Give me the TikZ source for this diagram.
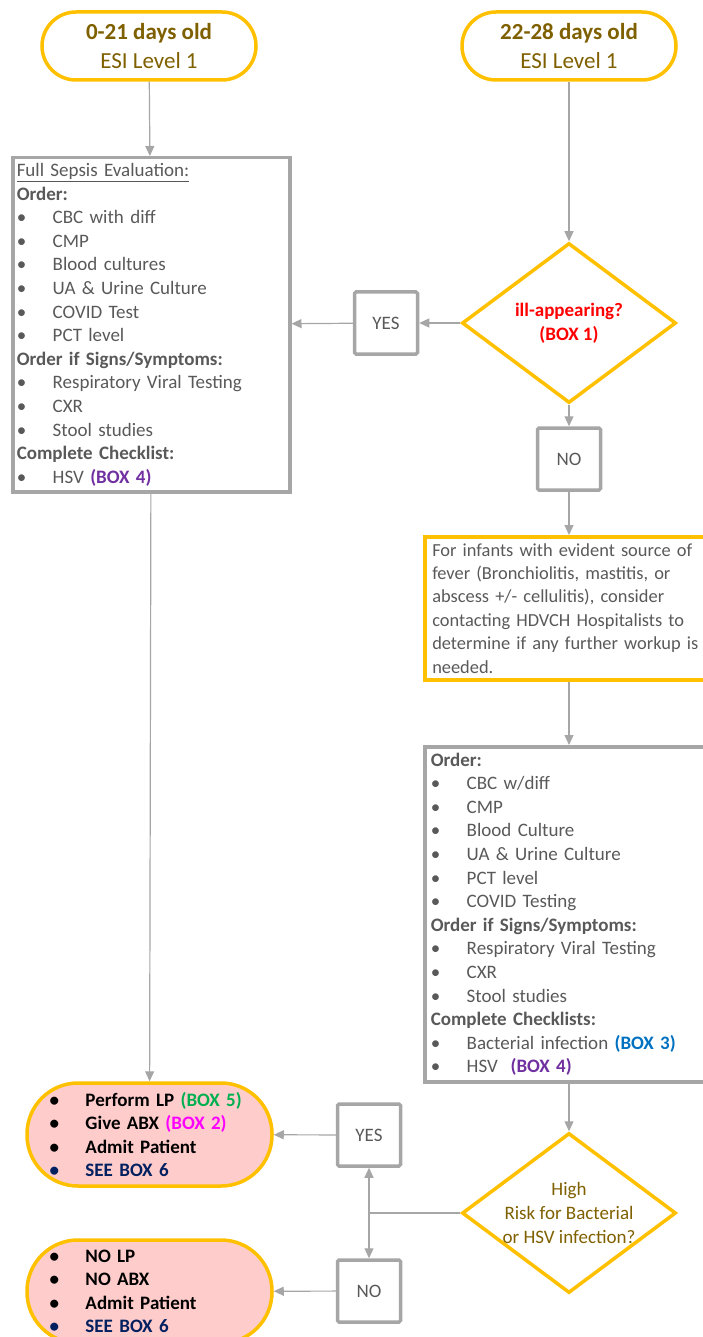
\documentclass[tikz,border=0pt]{standalone}
\usepackage{fontspec}
\setmainfont{Carlito}
\usetikzlibrary{shapes.geometric,arrows.meta,positioning}
\definecolor{gold}{HTML}{FFC000}
\definecolor{boxgray}{HTML}{A6A6A6}
\definecolor{txtgray}{HTML}{595959}
\definecolor{darkgold}{HTML}{7F6000}
\definecolor{pinkfill}{HTML}{FFCCCC}
\definecolor{boxred}{HTML}{FF0000}
\definecolor{boxblue}{HTML}{0070C0}
\definecolor{boxpurple}{HTML}{7030A0}
\definecolor{boxgreen}{HTML}{00B050}
\definecolor{boxmagenta}{HTML}{FF00FF}
\definecolor{navy}{HTML}{002060}
\newcommand{\itm}[1]{\makebox[36pt][l]{\textbullet}#1}

\begin{document}
\begin{tikzpicture}[x=1pt,y=-1pt,>={Triangle[width=9pt,length=10pt]},
    terminal/.style={rectangle,draw=gold,line width=3.5pt,rounded corners=34pt,minimum width=214pt,minimum height=68pt,text=darkgold,align=center,font=\fontsize{23}{29}\selectfont},
    listbox/.style={rectangle,draw=boxgray,line width=3.5pt,text=txtgray,align=left,inner sep=4pt,font=\fontsize{19}{23.6}\selectfont},
    notebox/.style={rectangle,draw=gold,line width=3.5pt,text=txtgray,align=left,inner sep=5pt,font=\fontsize{18.4}{23.4}\selectfont},
    choice/.style={diamond,draw=gold,line width=3.5pt,minimum width=214pt,minimum height=160pt,inner sep=-20pt,align=center,font=\fontsize{19}{23.6}\selectfont},
    answer/.style={rectangle,draw=boxgray,line width=3.5pt,rounded corners=1.5pt,minimum width=63pt,minimum height=62pt,text=txtgray,font=\fontsize{19}{23}\selectfont},
    action/.style={rectangle,draw=gold,fill=pinkfill,line width=3.5pt,rounded corners=51pt,minimum width=245pt,minimum height=103pt,text width=200pt,align=left,font=\bfseries\fontsize{19}{23.4}\selectfont},
    link/.style={draw=boxgray,line width=1.2pt}]
    \useasboundingbox (0,0) rectangle (703,1337);
    \clip (0,0) rectangle (703,1337);

    % left column
    \node[terminal] (young) at (149,46) {\textbf{0-21 days old}\\ESI Level 1};
    \node[listbox,anchor=north west,minimum width=277pt,minimum height=334pt,text width=269pt] (sepsis) at (11,156) {%
        \underline{Full Sepsis Evaluation:}\\
        \textbf{Order:}\\
        \itm{CBC with diff}\\
        \itm{CMP}\\
        \itm{Blood cultures}\\
        \itm{UA \& Urine Culture}\\
        \itm{COVID Test}\\
        \itm{PCT level}\\
        \textbf{Order if Signs/Symptoms:}\\
        \itm{Respiratory Viral Testing}\\
        \itm{CXR}\\
        \itm{Stool studies}\\
        \textbf{Complete Checklist:}\\
        \itm{HSV \textcolor{boxpurple}{\textbf{(BOX 4)}}}};

    % right column
    \node[terminal] (older) at (569,46) {\textbf{22-28 days old}\\ESI Level 1};
    \node[choice,text=boxred,font=\bfseries\fontsize{19}{24}\selectfont] (ill) at (569,323) {ill-appearing?\\(BOX 1)};
    \node[answer] (yes1) at (386,323) {YES};
    \node[answer] (no1) at (569,459) {NO};
    \node[notebox,anchor=north west,minimum width=300pt,minimum height=143pt,text width=285pt] (fever) at (423,535) {%
        For infants with evident source of\\
        fever (Bronchiolitis, mastitis, or\\
        abscess +/- cellulitis), consider\\
        contacting HDVCH Hospitalists to\\
        determine if any further workup is\\
        needed.};
    \node[listbox,anchor=north west,minimum width=300pt,minimum height=335pt,text width=288pt,inner xsep=6pt] (order) at (423,745) {%
        \textbf{Order:}\\
        \itm{CBC w/diff}\\
        \itm{CMP}\\
        \itm{Blood Culture}\\
        \itm{UA \& Urine Culture}\\
        \itm{PCT level}\\
        \itm{COVID Testing}\\
        \textbf{Order if Signs/Symptoms:}\\
        \itm{Respiratory Viral Testing}\\
        \itm{CXR}\\
        \itm{Stool studies}\\
        \textbf{Complete Checklists:}\\
        \itm{Bacterial infection \textcolor{boxblue}{\textbf{(BOX 3)}}}\\
        \itm{HSV\ \ \textcolor{boxpurple}{\textbf{(BOX 4)}}}};
    \node[choice,text=darkgold] (risk) at (569,1213) {High\\Risk for Bacterial\\or HSV infection?};

    % bottom answers
    \node[answer] (yes2) at (369,1135) {YES};
    \node[answer] (no2) at (369,1291) {NO};
    \coordinate (split) at (yes2 |- risk);
    \node[action] (admit) at (149.5,1134.5) {%
        \itm{Perform LP \textcolor{boxgreen}{(BOX 5)}}\\
        \itm{Give ABX \textcolor{boxmagenta}{(BOX 2)}}\\
        \itm{Admit Patient}\\
        \textcolor{navy}{\itm{SEE BOX 6}}};
    \node[action] (noabx) at (149.5,1291.5) {%
        \itm{NO LP}\\
        \itm{NO ABX}\\
        \itm{Admit Patient}\\
        \textcolor{navy}{\itm{SEE BOX 6}}};

    \draw[link,->] (young) -- (sepsis);
    \draw[link,->] (sepsis) -- (admit);
    \draw[link,->] (older) -- (ill);
    \draw[link,->] (ill) -- (yes1);
    \draw[link,->] (yes1) -- (sepsis);
    \draw[link,->] (ill) -- (no1);
    \draw[link,->] (no1) -- (no1 |- fever.north);
    \draw[link,->] (no1 |- fever.south) -- (no1 |- order.north);
    \draw[link,->] (no1 |- order.south) -- (risk);
    \draw[link] (risk) -- (split);
    \draw[link,->] (split) -- (yes2);
    \draw[link,->] (split) -- (no2);
    \draw[link,->] (yes2) -- (admit);
    \draw[link,->] (no2) -- (noabx);
\end{tikzpicture}
\end{document}
